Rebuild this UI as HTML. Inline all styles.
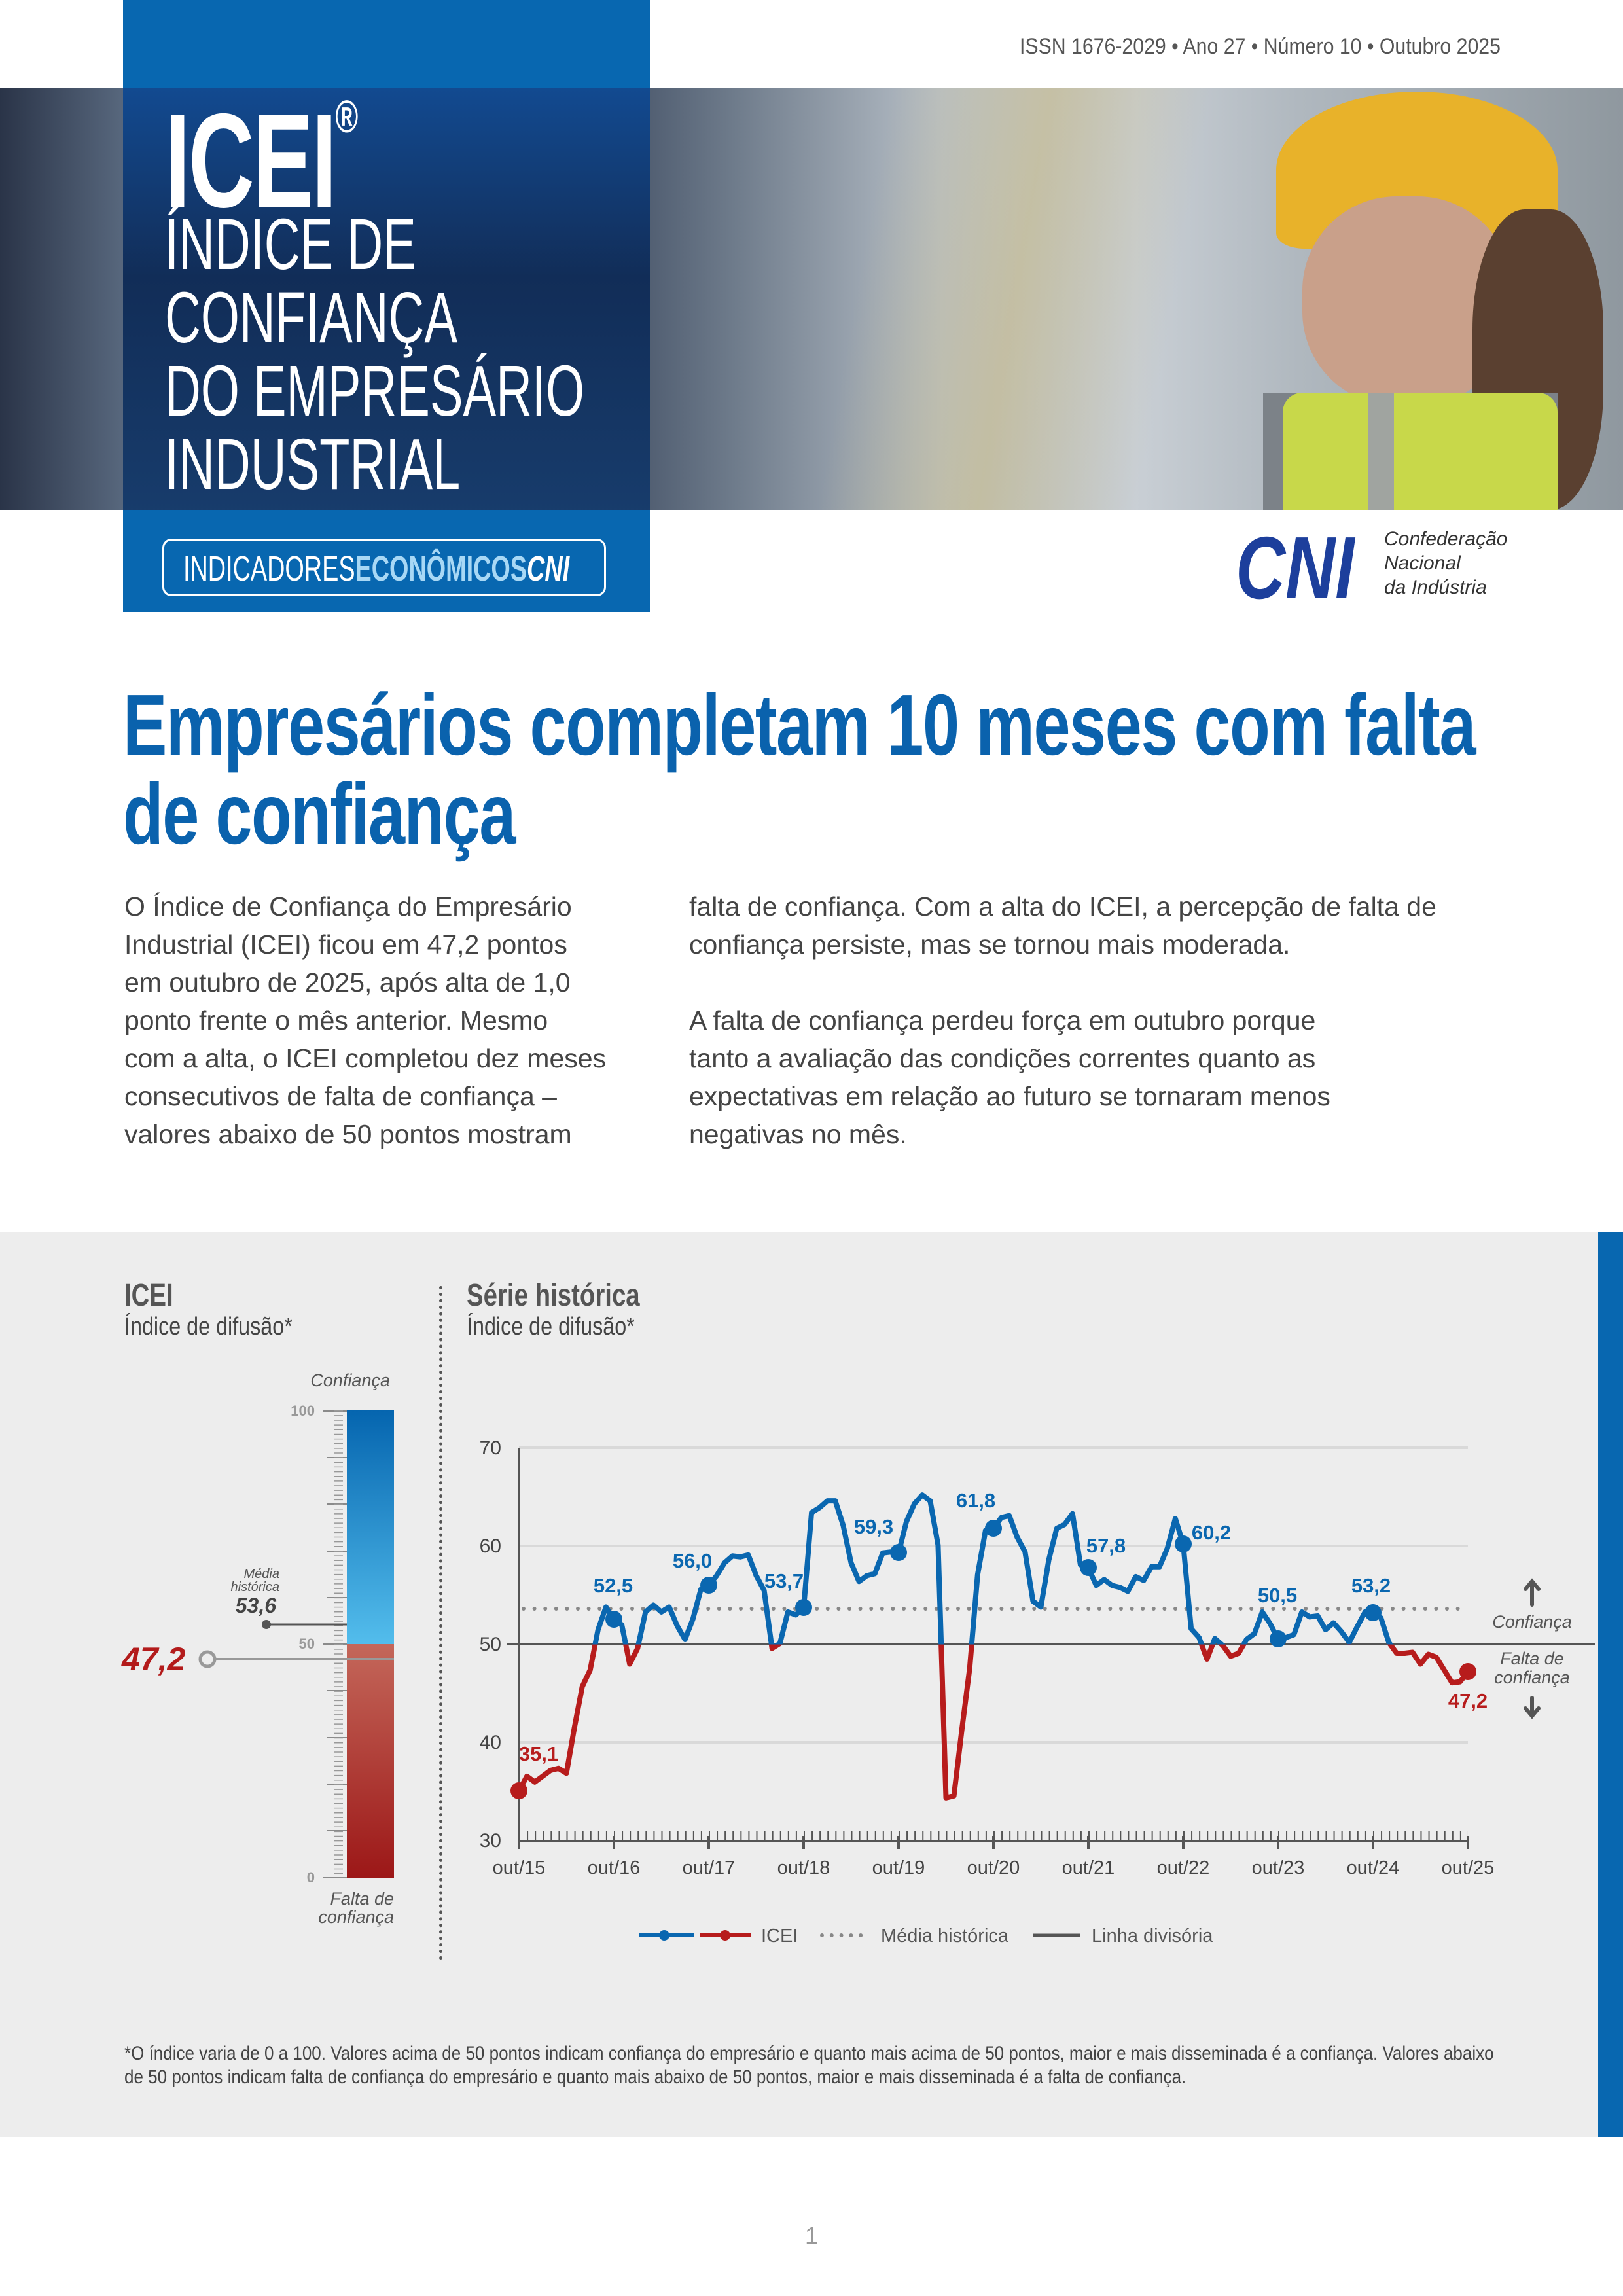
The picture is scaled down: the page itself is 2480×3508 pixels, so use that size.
<!DOCTYPE html>
<html><head><meta charset="utf-8">
<style>
*{margin:0;padding:0;box-sizing:border-box}
body{width:2480px;height:3508px;background:#fff;position:relative;overflow:hidden;font-family:"Liberation Sans",sans-serif;color:#444}
.a{position:absolute;white-space:nowrap}
.sx{transform-origin:left top}
</style></head><body>

<!-- photo band -->
<div class="a" style="left:0;top:134px;width:2480px;height:645px;background:linear-gradient(90deg,#2a3448 0%,#5a6a80 8%,#1c2a44 30%,#6d7a8a 45%,#b8c0c8 58%,#c9cfd5 70%,#b0b8bf 80%,#8f989f 100%)"></div>
<div class="a" style="left:1200px;top:134px;width:700px;height:645px;background:linear-gradient(100deg,rgba(220,210,170,0) 20%,rgba(200,185,130,.55) 50%,rgba(220,210,170,0) 80%)"></div>
<div class="a" style="left:1950px;top:140px;width:430px;height:240px;border-radius:50% 50% 10% 10%;background:#e8b22a"></div>
<div class="a" style="left:1990px;top:300px;width:320px;height:320px;border-radius:45%;background:#c9a08a"></div>
<div class="a" style="left:2250px;top:320px;width:200px;height:459px;border-radius:40%;background:#5a4030"></div>
<div class="a" style="left:1930px;top:600px;width:450px;height:179px;background:#7c8288"></div>
<div class="a" style="left:1960px;top:600px;width:420px;height:179px;border-radius:30px 30px 0 0;background:#c8d84a"></div>
<div class="a" style="left:2090px;top:600px;width:40px;height:179px;background:#a0a4a0"></div>

<!-- blue header box -->
<div class="a" style="left:188px;top:0;width:805px;height:935px;background:#0867b0"></div>
<div class="a" style="left:188px;top:134px;width:805px;height:645px;background:linear-gradient(180deg,rgba(20,70,140,.88),rgba(18,40,80,.92) 45%,rgba(25,55,100,.9))"></div>
<div class="a sx" style="left:252px;top:128px;font-size:205px;font-weight:bold;color:#fff;transform:scaleX(.68);letter-spacing:-4px">ICEI<span style="font-size:70px;vertical-align:top;position:relative;top:10px">®</span></div>
<div class="a sx" style="left:252px;top:318px;font-size:110px;line-height:112px;color:#fff;transform:scaleX(.69)">ÍNDICE DE<br>CONFIANÇA<br>DO EMPRESÁRIO<br>INDUSTRIAL</div>
<div class="a" style="left:248px;top:823px;width:678px;height:88px;border:3px solid #fff;border-radius:14px"></div>
<div class="a sx" style="left:280px;top:838px;font-size:54px;color:#fff;transform:scaleX(.7)">INDICADORES<b style="color:#a8d8f5">ECONÔMICOS</b><b><i>CNI</i></b></div>

<div class="a" style="left:1558px;top:52px;font-size:34px;color:#555;transform:scaleX(.89);transform-origin:left top">ISSN 1676-2029 • Ano 27 • Número 10 • Outubro 2025</div>

<!-- CNI logo -->
<div class="a sx" style="left:1888px;top:790px;font-size:135px;font-weight:bold;font-style:italic;color:#1d3f9c;transform:scaleX(.78)">CNI</div>
<div class="a" style="left:2115px;top:805px;font-size:30px;line-height:37px;font-style:italic;color:#333">Confederação<br>Nacional<br>da Indústria</div>

<!-- headline -->
<div class="a sx" style="left:188px;top:1040px;font-size:132px;line-height:136px;font-weight:bold;color:#0a62ad;transform:scaleX(.765);letter-spacing:-2px">Empresários completam 10 meses com falta<br>de confiança</div>

<!-- body -->
<div class="a" style="left:190px;top:1356px;font-size:41px;line-height:58px;color:#444">O Índice de Confiança do Empresário<br>Industrial (ICEI) ficou em 47,2 pontos<br>em outubro de 2025, após alta de 1,0<br>ponto frente o mês anterior. Mesmo<br>com a alta, o ICEI completou dez meses<br>consecutivos de falta de confiança –<br>valores abaixo de 50 pontos mostram</div>
<div class="a" style="left:1053px;top:1356px;font-size:41px;line-height:58px;color:#444">falta de confiança. Com a alta do ICEI, a percepção de falta de<br>confiança persiste, mas se tornou mais moderada.<br><br>A falta de confiança perdeu força em outubro porque<br>tanto a avaliação das condições correntes quanto as<br>expectativas em relação ao futuro se tornaram menos<br>negativas no mês.</div>

<!-- gray panel -->
<div class="a" style="left:0;top:1883px;width:2442px;height:1382px;background:#ededed"></div>
<div class="a" style="left:2442px;top:1883px;width:38px;height:1382px;background:#0867b0"></div>

<div class="a sx" style="left:190px;top:1952px;font-size:48px;font-weight:bold;color:#555;transform:scaleX(.8)">ICEI</div>
<div class="a sx" style="left:190px;top:2006px;font-size:38px;color:#444;transform:scaleX(.85)">Índice de difusão*</div>
<div class="a sx" style="left:713px;top:1952px;font-size:48px;font-weight:bold;color:#555;transform:scaleX(.8)">Série histórica</div>
<div class="a sx" style="left:713px;top:2006px;font-size:38px;color:#444;transform:scaleX(.85)">Índice de difusão*</div>
<div class="a" style="left:671px;top:1965px;height:1030px;border-left:5px dotted #555"></div>

<!-- thermometer -->
<svg class="a" style="left:0;top:0" width="700" height="3000" viewBox="0 0 700 3000">
<defs>
<linearGradient id="gb" x1="0" y1="0" x2="0" y2="1"><stop offset="0" stop-color="#0565af"/><stop offset="1" stop-color="#53bdec"/></linearGradient>
<linearGradient id="gr" x1="0" y1="0" x2="0" y2="1"><stop offset="0" stop-color="#c4675a"/><stop offset="1" stop-color="#9c1717"/></linearGradient>
</defs>
<rect x="530" y="2155" width="72" height="357" fill="url(#gb)"/>
<rect x="530" y="2512" width="72" height="358" fill="url(#gr)"/>
<g stroke="#8a8a8a" stroke-width="2">
<line x1="493" y1="2156" x2="530" y2="2156"/><line x1="500" y1="2227" x2="530" y2="2227"/><line x1="500" y1="2298" x2="530" y2="2298"/><line x1="500" y1="2370" x2="530" y2="2370"/><line x1="500" y1="2441" x2="530" y2="2441"/><line x1="493" y1="2512" x2="530" y2="2512"/><line x1="500" y1="2583" x2="530" y2="2583"/><line x1="500" y1="2655" x2="530" y2="2655"/><line x1="500" y1="2726" x2="530" y2="2726"/><line x1="500" y1="2797" x2="530" y2="2797"/><line x1="493" y1="2869" x2="530" y2="2869"/>
</g>
<line x1="517" y1="2155" x2="517" y2="2870" stroke="#999" stroke-width="14" stroke-dasharray="1.5 5.64"/>
<text x="481" y="2163" font-size="22" font-weight="bold" fill="#999" text-anchor="end" font-family="Liberation Sans">100</text>
<text x="481" y="2519" font-size="22" font-weight="bold" fill="#999" text-anchor="end" font-family="Liberation Sans">50</text>
<text x="481" y="2876" font-size="22" font-weight="bold" fill="#999" text-anchor="end" font-family="Liberation Sans">0</text>
<text x="596" y="2118" font-size="27" font-style="italic" fill="#555" text-anchor="end" font-family="Liberation Sans">Confiança</text>
<text x="602" y="2910" font-size="27" font-style="italic" fill="#555" text-anchor="end" font-family="Liberation Sans">Falta de</text>
<text x="602" y="2938" font-size="27" font-style="italic" fill="#555" text-anchor="end" font-family="Liberation Sans">confiança</text>
<text x="427" y="2411" font-size="20" font-style="italic" fill="#555" text-anchor="end" font-family="Liberation Sans">Média</text>
<text x="427" y="2431" font-size="20" font-style="italic" fill="#555" text-anchor="end" font-family="Liberation Sans">histórica</text>
<text x="422" y="2464" font-size="32" font-style="italic" font-weight="bold" fill="#444" text-anchor="end" font-family="Liberation Sans">53,6</text>
<line x1="407" y1="2482" x2="530" y2="2482" stroke="#555" stroke-width="3"/>
<circle cx="407" cy="2482" r="7" fill="#555"/>
<line x1="329" y1="2535" x2="602" y2="2535" stroke="#999" stroke-width="4"/>
<circle cx="317" cy="2535" r="11" fill="none" stroke="#999" stroke-width="5"/>
<text x="186" y="2552" font-size="50" font-style="italic" font-weight="bold" fill="#b31b1b" font-family="Liberation Sans">47,2</text>
</svg>

<!-- line chart -->
<svg class="a" style="left:0;top:0" width="2480" height="3000" viewBox="0 0 2480 3000" font-family="Liberation Sans">
<g stroke="#d9d9d9" stroke-width="4">
<line x1="793" y1="2212" x2="2243" y2="2212"/><line x1="793" y1="2362" x2="2243" y2="2362"/><line x1="793" y1="2662" x2="2243" y2="2662"/>
</g>
<line x1="800" y1="2458" x2="2243" y2="2458" stroke="#888" stroke-width="6" stroke-linecap="round" stroke-dasharray="0 16.6"/>
<line x1="775" y1="2512" x2="2437" y2="2512" stroke="#555" stroke-width="4"/>
<line x1="793" y1="2212" x2="793" y2="2813" stroke="#555" stroke-width="3"/>
<line x1="793" y1="2813" x2="2243" y2="2813" stroke="#555" stroke-width="3"/>
<line x1="793" y1="2805" x2="2243" y2="2805" stroke="#555" stroke-width="14" stroke-dasharray="2 10.083"/>
<g stroke="#555" stroke-width="4">
<line x1="793" y1="2805" x2="793" y2="2825"/><line x1="938" y1="2805" x2="938" y2="2825"/><line x1="1083" y1="2805" x2="1083" y2="2825"/><line x1="1228" y1="2805" x2="1228" y2="2825"/><line x1="1373" y1="2805" x2="1373" y2="2825"/><line x1="1518" y1="2805" x2="1518" y2="2825"/><line x1="1663" y1="2805" x2="1663" y2="2825"/><line x1="1808" y1="2805" x2="1808" y2="2825"/><line x1="1953" y1="2805" x2="1953" y2="2825"/><line x1="2098" y1="2805" x2="2098" y2="2825"/><line x1="2243" y1="2805" x2="2243" y2="2825"/>
</g>
<g font-size="30" fill="#444" text-anchor="end">
<text x="766" y="2222">70</text><text x="766" y="2372">60</text><text x="766" y="2522">50</text><text x="766" y="2672">40</text><text x="766" y="2822">30</text>
</g>
<g font-size="29" fill="#444" text-anchor="middle">
<text x="793" y="2863">out/15</text><text x="938" y="2863">out/16</text><text x="1083" y="2863">out/17</text><text x="1228" y="2863">out/18</text><text x="1373" y="2863">out/19</text><text x="1518" y="2863">out/20</text><text x="1663" y="2863">out/21</text><text x="1808" y="2863">out/22</text><text x="1953" y="2863">out/23</text><text x="2098" y="2863">out/24</text><text x="2243" y="2863">out/25</text>
</g>
<svg x="793" y="2212" width="1450" height="601" viewBox="0 30 120 40" preserveAspectRatio="none" overflow="visible">
<defs>
<clipPath id="cb" clipPathUnits="userSpaceOnUse"><rect x="-5" y="20" width="130" height="30"/></clipPath>
<clipPath id="cr" clipPathUnits="userSpaceOnUse"><rect x="-5" y="50" width="130" height="30"/></clipPath>
</defs>
<polyline clip-path="url(#cb)" stroke="#0a67b0" vector-effect="non-scaling-stroke" stroke-width="8" fill="none" stroke-linejoin="round" points="0,64.9 1,63.4 2,64 3,63.4 4,62.8 5,62.6 6,63.1 7,58.5 8,54.3 9,52.6 10,48.5 11,46.2 12,47.5 13,48 14,52 15,50.4 16,46.7 17,46 18,46.7 19,46.2 20,48.1 21,49.5 22,47.4 23,44.4 24,44 25,43 26,41.7 27,41 28,41.1 29,40.9 30,43 31,44.5 32,50.4 33,49.9 34,46.7 35,47 36,46.3 37,36.6 38,36.1 39,35.4 40,35.4 41,37.9 42,41.7 43,43.6 44,43 45,42.8 46,40.7 47,40.6 48,40.7 49,37.5 50,35.7 51,34.8 52,35.4 53,39.9 54,65.6 55,65.4 56,58.7 57,52.4 58,42.9 59,38.4 60,38.2 61,37.1 62,36.9 63,39.1 64,40.6 65,45.6 66,46.2 67,41.4 68,38.2 69,37.8 70,36.7 71,41.9 72,42.2 73,44 74,43.4 75,44 76,44.2 77,44.6 78,43.1 79,43.5 80,42.1 81,42.1 82,40.2 83,37.2 84,39.8 85,48.4 86,49.3 87,51.5 88,49.4 89,50.1 90,51.2 91,50.9 92,49.5 93,48.9 94,46.7 95,47.9 96,49.5 97,49.3 98,49 99,46.7 100,47.2 101,47.1 102,48.5 103,47.8 104,48.7 105,49.8 106,48.2 107,46.7 108,46.8 109,47.3 110,49.8 111,50.9 112,50.9 113,50.8 114,52 115,51 116,51.3 117,52.6 118,53.9 119,53.8 120,52.8"/>
<polyline clip-path="url(#cr)" stroke="#b71c1c" vector-effect="non-scaling-stroke" stroke-width="8" fill="none" stroke-linejoin="round" points="0,64.9 1,63.4 2,64 3,63.4 4,62.8 5,62.6 6,63.1 7,58.5 8,54.3 9,52.6 10,48.5 11,46.2 12,47.5 13,48 14,52 15,50.4 16,46.7 17,46 18,46.7 19,46.2 20,48.1 21,49.5 22,47.4 23,44.4 24,44 25,43 26,41.7 27,41 28,41.1 29,40.9 30,43 31,44.5 32,50.4 33,49.9 34,46.7 35,47 36,46.3 37,36.6 38,36.1 39,35.4 40,35.4 41,37.9 42,41.7 43,43.6 44,43 45,42.8 46,40.7 47,40.6 48,40.7 49,37.5 50,35.7 51,34.8 52,35.4 53,39.9 54,65.6 55,65.4 56,58.7 57,52.4 58,42.9 59,38.4 60,38.2 61,37.1 62,36.9 63,39.1 64,40.6 65,45.6 66,46.2 67,41.4 68,38.2 69,37.8 70,36.7 71,41.9 72,42.2 73,44 74,43.4 75,44 76,44.2 77,44.6 78,43.1 79,43.5 80,42.1 81,42.1 82,40.2 83,37.2 84,39.8 85,48.4 86,49.3 87,51.5 88,49.4 89,50.1 90,51.2 91,50.9 92,49.5 93,48.9 94,46.7 95,47.9 96,49.5 97,49.3 98,49 99,46.7 100,47.2 101,47.1 102,48.5 103,47.8 104,48.7 105,49.8 106,48.2 107,46.7 108,46.8 109,47.3 110,49.8 111,50.9 112,50.9 113,50.8 114,52 115,51 116,51.3 117,52.6 118,53.9 119,53.8 120,52.8"/>
</svg>
<g fill="#0a67b0">
<circle cx="938" cy="2474" r="13"/><circle cx="1083" cy="2422" r="13"/><circle cx="1228" cy="2456" r="13"/><circle cx="1373" cy="2372" r="13"/><circle cx="1518" cy="2335" r="13"/><circle cx="1663" cy="2395" r="13"/><circle cx="1808" cy="2359" r="13"/><circle cx="1953" cy="2504" r="13"/><circle cx="2098" cy="2464" r="13"/>
</g>
<circle cx="793" cy="2736" r="13" fill="#b71c1c"/><circle cx="2243" cy="2554" r="13" fill="#b71c1c"/>
<g font-size="31" font-weight="bold" fill="#0a67b0" text-anchor="middle">
<text x="937" y="2433">52,5</text><text x="1058" y="2395">56,0</text><text x="1198" y="2426">53,7</text><text x="1335" y="2343">59,3</text><text x="1491" y="2303">61,8</text><text x="1690" y="2372">57,8</text><text x="1851" y="2352">60,2</text><text x="1952" y="2448">50,5</text><text x="2095" y="2433">53,2</text>
</g>
<g font-size="31" font-weight="bold" fill="#b71c1c" text-anchor="middle">
<text x="823" y="2690">35,1</text><text x="2243" y="2609">47,2</text>
</g>
<g stroke="#555" stroke-width="6" fill="none" stroke-linecap="round">
<line x1="2341" y1="2418" x2="2341" y2="2452"/><polyline points="2331,2428 2341,2416 2351,2428"/>
<line x1="2341" y1="2594" x2="2341" y2="2620"/><polyline points="2331,2610 2341,2622 2351,2610"/>
</g>
<g font-size="27" font-style="italic" fill="#555" text-anchor="middle">
<text x="2341" y="2487">Confiança</text><text x="2341" y="2543">Falta de</text><text x="2341" y="2572">confiança</text>
</g>
<line x1="977" y1="2957" x2="1060" y2="2957" stroke="#0a67b0" stroke-width="6"/><circle cx="1015" cy="2957" r="8" fill="#0a67b0"/>
<line x1="1070" y1="2957" x2="1147" y2="2957" stroke="#b71c1c" stroke-width="6"/><circle cx="1108" cy="2957" r="8" fill="#b71c1c"/>
<text x="1163" y="2967" font-size="29" fill="#555">ICEI</text>
<line x1="1256" y1="2957" x2="1330" y2="2957" stroke="#888" stroke-width="6" stroke-linecap="round" stroke-dasharray="0 14.8"/>
<text x="1346" y="2967" font-size="29" fill="#555">Média histórica</text>
<line x1="1579" y1="2957" x2="1650" y2="2957" stroke="#555" stroke-width="5"/>
<text x="1668" y="2967" font-size="29" fill="#555">Linha divisória</text>
</svg>

<div class="a sx" style="left:190px;top:3120px;font-size:30px;line-height:36px;color:#444;transform:scaleX(.867)">*O índice varia de 0 a 100. Valores acima de 50 pontos indicam confiança do empresário e quanto mais acima de 50 pontos, maior e mais disseminada é a confiança. Valores abaixo<br>de 50 pontos indicam falta de confiança do empresário e quanto mais abaixo de 50 pontos, maior e mais disseminada é a falta de confiança.</div>

<div class="a" style="left:1230px;top:3395px;font-size:36px;color:#999">1</div>
</body></html>
